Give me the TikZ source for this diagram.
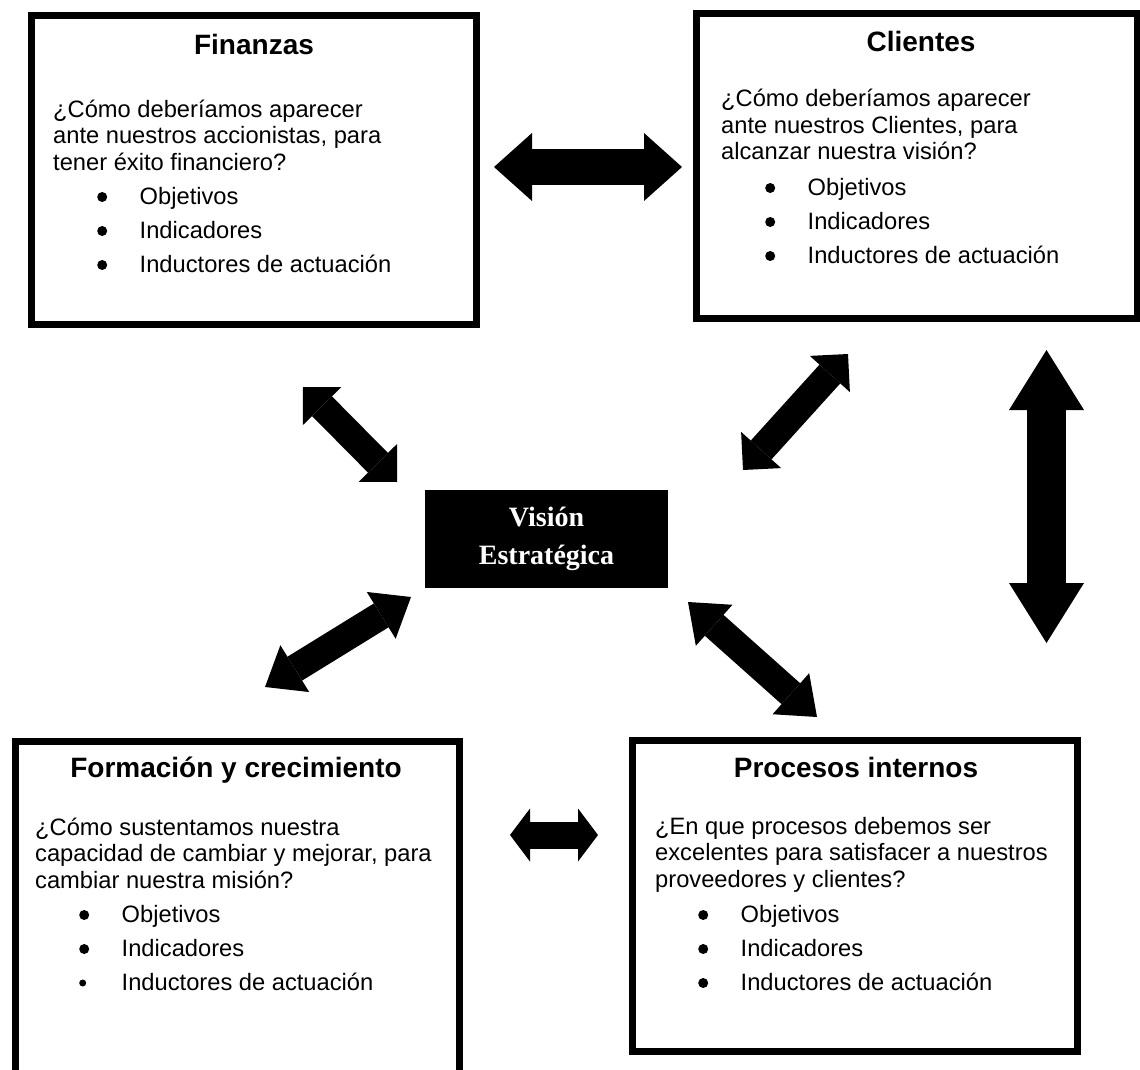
\documentclass[tikz,border=0pt]{standalone}
\usepackage{fontspec}
\setmainfont{Liberation Sans}
\newfontfamily\visfont{Liberation Serif}
\usetikzlibrary{arrows.meta}
\newcommand{\bul}{\makebox[42.5pt][l]{\tikz[baseline=-7pt]\fill (5pt,0pt) circle (5pt);}}
\newcommand{\bulsmall}{\makebox[42.5pt][l]{\tikz[baseline=-7pt]\fill (5pt,0pt) circle (3.5pt);}}
\begin{document}
\begin{tikzpicture}[
        x=1pt, y=-1pt,
        font=\fontsize{23.7}{26.5}\selectfont
    ]
    \tikzset{
        box/.style = {rectangle, draw=black, line width=7pt, fill=white},
        vision/.style = {rectangle, fill=black, text=white, align=center, font=\visfont\bfseries\fontsize{28}{38}\selectfont},
        boxtitle/.style = {anchor=base, inner sep=0pt, font=\bfseries\fontsize{28}{32}\selectfont},
        boxtext/.style = {anchor=base west, inner sep=0pt, align=left},
        boxitems/.style = {anchor=base west, inner sep=0pt, align=left, font=\fontsize{23.7}{34}\selectfont},
        dbl/.style n args = {3}{line width=#1, {Triangle[length=#3,width=#2,line width=0pt 0]}-{Triangle[length=#3,width=#2,line width=0pt 0]}},
    }
    \useasboundingbox (0,0) rectangle (1140,1070);
    \clip (0,0) rectangle (1140,1070);
    \node[box, minimum width=445pt, minimum height=309pt] (fin) at (254,170) {};
    \node[box, minimum width=440.5pt, minimum height=305pt] (cli) at (916.75,166) {};
    \node[box, minimum width=444pt, minimum height=350pt] (for) at (237.5,916.5) {};
    \node[box, minimum width=445pt, minimum height=311pt] (pro) at (855,896) {};
    \node[vision, minimum width=243pt, minimum height=98pt] (vis) at (546.5,539) {Visión\\Estratégica};
    %
    \node[boxtitle] (fin-t) at (254,55) {Finanzas};
    \node[boxtext] (fin-q) at (53,170) {¿Cómo deberíamos aparecer\\ante nuestros accionistas, para\\tener éxito financiero?};
    \node[boxitems] (fin-l) at (97,272) {\bul Objetivos\\\bul Indicadores\\\bul Inductores de actuación};
    %
    \node[boxtitle] (cli-t) at (921,52) {Clientes};
    \node[boxtext] (cli-q) at (721,160) {¿Cómo deberíamos aparecer\\ante nuestros Clientes, para\\alcanzar nuestra visión?};
    \node[boxitems] (cli-l) at (765,263) {\bul Objetivos\\\bul Indicadores\\\bul Inductores de actuación};
    %
    \node[boxtitle] (for-t) at (236,777) {Formación y crecimiento};
    \node[boxtext] (for-q) at (35,888) {¿Cómo sustentamos nuestra\\capacidad de cambiar y mejorar, para\\cambiar nuestra misión?};
    \node[boxitems] (for-l) at (79,990) {\bul Objetivos\\\bul Indicadores\\\bulsmall Inductores de actuación};
    %
    \node[boxtitle] (pro-t) at (856,777) {Procesos internos};
    \node[boxtext] (pro-q) at (655,887) {¿En que procesos debemos ser\\excelentes para satisfacer a nuestros\\proveedores y clientes?};
    \node[boxitems] (pro-l) at (698,990) {\bul Objetivos\\\bul Indicadores\\\bul Inductores de actuación};
    %
    \coordinate (fc-a) at (494,167);
    \coordinate (fc-b) at (682,167);
    \coordinate (cp-a) at (1046.5,350);
    \coordinate (cp-b) at (1046.5,643);
    \coordinate (fv-a) at (303,387);
    \coordinate (fv-b) at (397,482);
    \coordinate (cv-a) at (848,354);
    \coordinate (cv-b) at (743,470);
    \coordinate (mv-a) at (411,597);
    \coordinate (mv-b) at (265,687);
    \coordinate (pv-a) at (688,602);
    \coordinate (pv-b) at (817,717);
    \coordinate (mp-a) at (510,835);
    \coordinate (mp-b) at (598,835);
    %
    \draw[dbl={36pt}{68pt}{38pt}] (fc-a) -- (fc-b);
    \draw[dbl={39pt}{75pt}{60pt}] (cp-a) -- (cp-b);
    \draw[dbl={28pt}{54pt}{27pt}] (fv-a) -- (fv-b);
    \draw[dbl={28pt}{54pt}{27pt}] (cv-a) -- (cv-b);
    \draw[dbl={28pt}{55pt}{35pt}] (mv-a) -- (mv-b);
    \draw[dbl={28pt}{55pt}{35pt}] (pv-a) -- (pv-b);
    \draw[dbl={27pt}{53pt}{20pt}] (mp-a) -- (mp-b);
\end{tikzpicture}
\end{document}
